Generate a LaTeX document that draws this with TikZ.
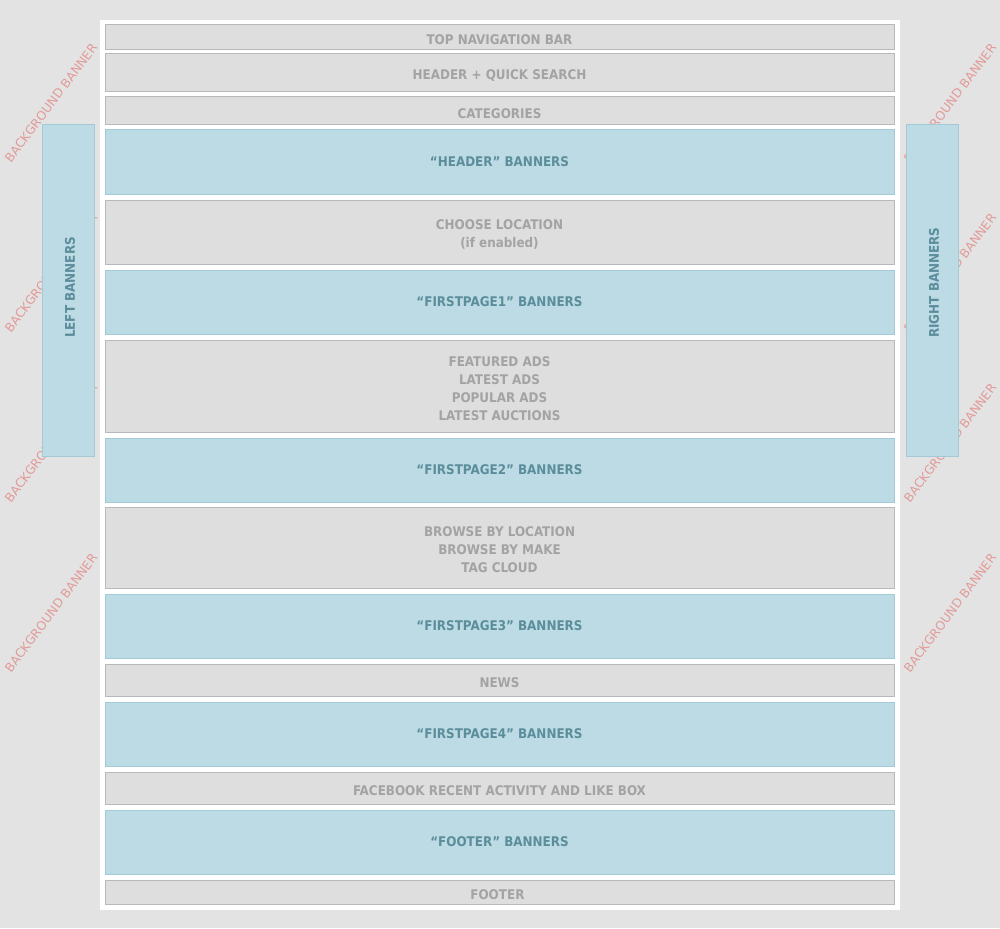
\documentclass[tikz,border=0pt]{standalone}
\usepackage{fontspec}
\setmainfont{DejaVu Sans}
\newfontfamily\boxfont{DejaVu Sans Condensed}
\usetikzlibrary{positioning}

\definecolor{pagebg}{HTML}{E3E3E3}
\definecolor{blockfill}{HTML}{DEDEDE}
\definecolor{blockline}{HTML}{B9B9B9}
\definecolor{blocktext}{HTML}{A3A3A3}
\definecolor{bannerfill}{HTML}{BDDBE4}
\definecolor{bannerline}{HTML}{A2CBD6}
\definecolor{bannertext}{HTML}{5B8D9B}
\definecolor{bgtext}{HTML}{E29A98}

\tikzset{
  blockbox/.style={draw=blockline, fill=blockfill, line width=1pt,
    inner sep=0pt, minimum width=789pt},
  blocklabel/.style={text=blocktext, align=center, inner sep=0pt, yshift=-2.5pt,
    font=\boxfont\bfseries\fontsize{13.3}{18}\selectfont},
  bannerbox/.style={blockbox, draw=bannerline, fill=bannerfill, text=bannertext,
    font=\boxfont\bfseries\fontsize{13.3}{18}\selectfont},
  sidebanner/.style={blockbox, draw=bannerline, fill=bannerfill,
    minimum width=52pt, minimum height=331pt},
  sidelabel/.style={text=bannertext, rotate=90, anchor=west, inner sep=0pt,
    font=\boxfont\bfseries\fontsize{13.3}{18}\selectfont},
  bgbanner/.style={text=bgtext, rotate=53, inner sep=0pt,
    font=\fontsize{12.3}{14}\selectfont}
}

\begin{document}
\begin{tikzpicture}[x=1pt, y=-1pt]
\useasboundingbox (0,0) rectangle (1000,928);
\fill[pagebg] (0,0) rectangle (1000,928);

% background banners (behind everything)
\foreach \i/\y in {1/103, 2/273, 3/443, 4/613} {
  \node[bgbanner] (bgleft-\i) at (51,\y) {BACKGROUND BANNER};
  \node[bgbanner] (bgright-\i) at (950,\y) {BACKGROUND BANNER};
}

% page
\fill[white] (100,20) rectangle (900,910);

% plain blocks
\foreach \i/\t/\b/\name in {
    1/25/50/TOP NAVIGATION BAR,
    2/54/92/HEADER + QUICK SEARCH,
    3/97/125/CATEGORIES,
    5/200/264/{CHOOSE LOCATION\\(if enabled)},
    7/340/432/{FEATURED ADS\\LATEST ADS\\POPULAR ADS\\LATEST AUCTIONS},
    9/507/588/{BROWSE BY LOCATION\\BROWSE BY MAKE\\TAG CLOUD},
    11/664/696/NEWS,
    13/772/804/FACEBOOK RECENT ACTIVITY AND LIKE BOX,
    15/880/904/FOOTER } {
  \node[blockbox, minimum height={(\b-\t)*1pt},
        label={[blocklabel]center:{\name}}] (box-\i) at (499.5,{(\t+\b)/2}) {};
}

% banner blocks
\foreach \i/\t/\b/\name in {
    4/130/194/“HEADER” BANNERS,
    6/270/334/“FIRSTPAGE1” BANNERS,
    8/438/502/“FIRSTPAGE2” BANNERS,
    10/594/658/“FIRSTPAGE3” BANNERS,
    12/702/766/“FIRSTPAGE4” BANNERS,
    14/810/874/“FOOTER” BANNERS } {
  \node[bannerbox, minimum height={(\b-\t)*1pt}] (box-\i) at (499.5,{(\t+\b)/2}) {\name};
}

% side banners
\node[sidebanner] (leftban) at (68,290.5) {};
\node[sidebanner] (rightban) at (932,290.5) {};
\node[sidelabel] (leftban-text) at (70,338) {LEFT BANNERS};
\node[sidelabel] (rightban-text) at (934,338) {RIGHT BANNERS};

\end{tikzpicture}
\end{document}
